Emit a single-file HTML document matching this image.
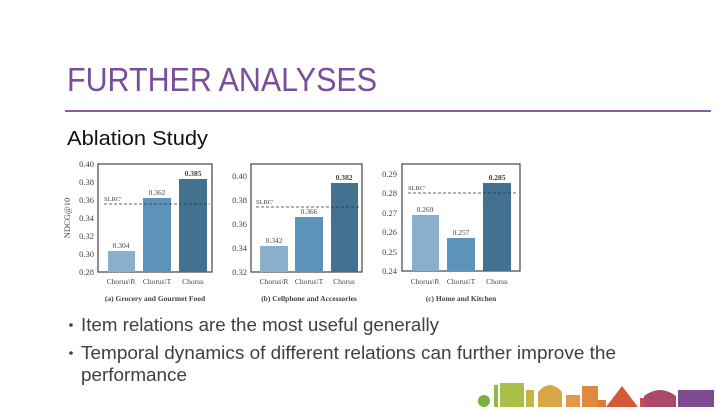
<!DOCTYPE html>
<html><head><meta charset="utf-8"><style>
html,body{margin:0;padding:0;background:#fff;}
svg{display:block;}
</style></head><body>
<svg width="727" height="411" viewBox="0 0 727 411" xmlns="http://www.w3.org/2000/svg" font-family="Liberation Sans, sans-serif">
<rect width="727" height="411" fill="#fff"/>
<text x="67" y="91" font-size="33" fill="#7a4e9c" textLength="310" lengthAdjust="spacingAndGlyphs">FURTHER ANALYSES</text>
<rect x="65" y="110" width="646" height="2" fill="#8a5ea6"/>
<text x="67" y="145" font-size="20" fill="#111" textLength="141" lengthAdjust="spacingAndGlyphs">Ablation Study</text>

<g font-family="Liberation Serif, serif" fill="#444">
<!-- chart a -->
<rect x="98" y="164" width="114" height="108" fill="none" stroke="#444" stroke-width="1.2"/>
<g font-size="8.5" text-anchor="end">
<text x="94" y="167">0.40</text><text x="94" y="185">0.38</text><text x="94" y="203">0.36</text><text x="94" y="221">0.34</text><text x="94" y="239">0.32</text><text x="94" y="257">0.30</text><text x="94" y="275">0.28</text>
</g>
<text transform="translate(70,218) rotate(-90)" font-size="8.5" text-anchor="middle">NDCG@10</text>
<rect x="108" y="251" width="27" height="21" fill="#8aafca"/>
<rect x="143" y="198" width="28" height="74" fill="#5b93bb"/>
<rect x="179" y="179" width="28" height="93" fill="#42728f"/>
<line x1="104" y1="204" x2="210" y2="204" stroke="#333" stroke-dasharray="3,2" stroke-width="0.8"/>
<text x="104" y="201" font-size="6.5">SLRC'</text>
<g font-size="7.5" text-anchor="middle">
<text x="121" y="248">0.304</text><text x="157" y="195">0.362</text><text x="193" y="176" font-weight="bold">0.385</text>
<text x="121" y="284">Chorus\R</text><text x="157" y="284">Chorus\T</text><text x="193" y="284">Chorus</text>
<text x="155" y="301" font-weight="bold">(a) Grocery and Gourmet Food</text>
</g>
<!-- chart b -->
<rect x="251" y="164" width="111" height="108" fill="none" stroke="#444" stroke-width="1.2"/>
<g font-size="8.5" text-anchor="end">
<text x="247" y="179">0.40</text><text x="247" y="203">0.38</text><text x="247" y="227">0.36</text><text x="247" y="251">0.34</text><text x="247" y="275">0.32</text>
</g>
<rect x="260" y="246" width="28" height="26" fill="#8aafca"/>
<rect x="295" y="217" width="28" height="55" fill="#5b93bb"/>
<rect x="331" y="183" width="27" height="89" fill="#42728f"/>
<line x1="256" y1="207" x2="360" y2="207" stroke="#333" stroke-dasharray="3,2" stroke-width="0.8"/>
<text x="256" y="204" font-size="6.5">SLRC'</text>
<g font-size="7.5" text-anchor="middle">
<text x="274" y="243">0.342</text><text x="309" y="214">0.366</text><text x="344" y="180" font-weight="bold">0.382</text>
<text x="274" y="284">Chorus\R</text><text x="309" y="284">Chorus\T</text><text x="344" y="284">Chorus</text>
<text x="309" y="301" font-weight="bold">(b) Cellphone and Accessories</text>
</g>
<!-- chart c -->
<rect x="402" y="164" width="118" height="107" fill="none" stroke="#444" stroke-width="1.2"/>
<g font-size="8.5" text-anchor="end">
<text x="397" y="177">0.29</text><text x="397" y="196">0.28</text><text x="397" y="216">0.27</text><text x="397" y="235">0.26</text><text x="397" y="255">0.25</text><text x="397" y="274">0.24</text>
</g>
<rect x="412" y="215" width="27" height="56" fill="#8aafca"/>
<rect x="447" y="238" width="28" height="33" fill="#5b93bb"/>
<rect x="483" y="183" width="28" height="88" fill="#42728f"/>
<line x1="408" y1="193" x2="516" y2="193" stroke="#333" stroke-dasharray="3,2" stroke-width="0.8"/>
<text x="408" y="190" font-size="6.5">SLRC'</text>
<g font-size="7.5" text-anchor="middle">
<text x="425" y="212">0.269</text><text x="461" y="235">0.257</text><text x="497" y="180" font-weight="bold">0.285</text>
<text x="425" y="284">Chorus\R</text><text x="461" y="284">Chorus\T</text><text x="497" y="284">Chorus</text>
<text x="461" y="301" font-weight="bold">(c) Home and Kitchen</text>
</g>
</g>

<g font-size="18" fill="#404040">
<circle cx="71" cy="325" r="1.8" fill="#404040"/>
<text x="81" y="331" textLength="358" lengthAdjust="spacingAndGlyphs">Item relations are the most useful generally</text>
<circle cx="71" cy="353" r="1.8" fill="#404040"/>
<text x="81" y="359" textLength="535" lengthAdjust="spacingAndGlyphs">Temporal dynamics of different relations can further improve the</text>
<text x="81" y="381" textLength="106" lengthAdjust="spacingAndGlyphs">performance</text>
</g>

<!-- skyline -->
<g>
<circle cx="484" cy="401" r="6" fill="#7bb040"/>
<rect x="494" y="385" width="4" height="22" fill="#8bbd4a"/>
<rect x="500" y="383" width="24" height="24" fill="#a9c048"/>
<rect x="526" y="390" width="8" height="17" fill="#c4b445"/>
<path d="M538 407 V392 Q550 378 562 392 V407Z" fill="#d9a646"/>
<rect x="566" y="395" width="14" height="12" fill="#e09a45"/>
<rect x="582" y="386" width="16" height="21" fill="#e08a3e"/>
<rect x="598" y="400" width="8" height="7" fill="#df7a3a"/>
<path d="M606 407 L622 386 L638 407Z" fill="#d4583a"/>
<rect x="640" y="398" width="4" height="9" fill="#c9504a"/>
<path d="M644 407 V396 Q660 384 676 396 V407Z" fill="#a94a6a"/>
<rect x="678" y="390" width="36" height="17" fill="#7e4a90"/>
</g>
</svg>
</body></html>
